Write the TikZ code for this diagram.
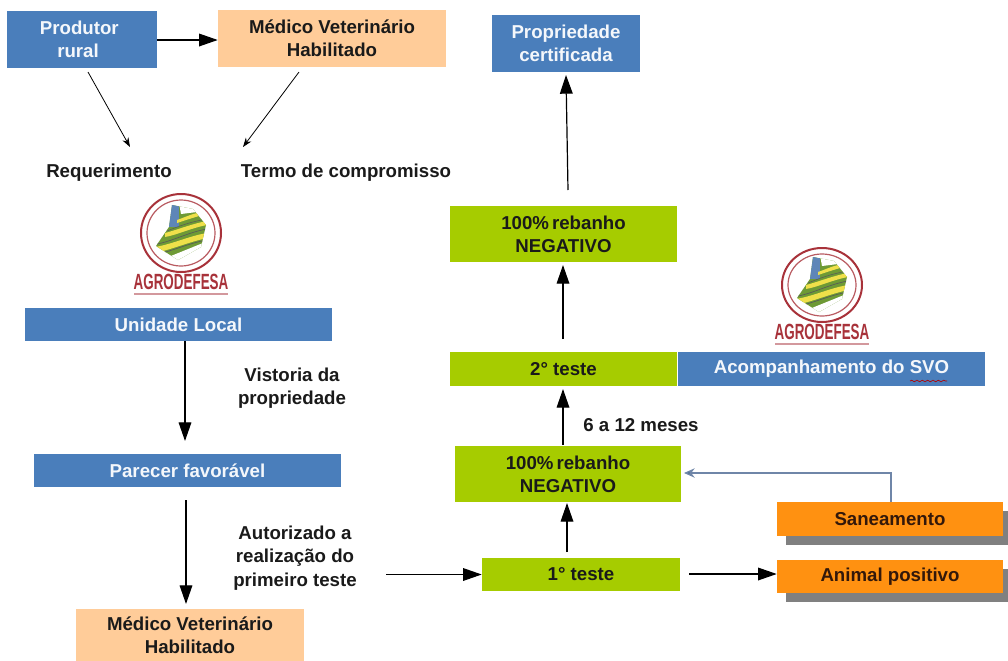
\documentclass[tikz,border=0pt]{standalone}
\usepackage{fontspec}
\setmainfont{Liberation Sans}
\usetikzlibrary{arrows.meta,calc,decorations.pathmorphing}
\definecolor{bluebox}{HTML}{4A7EBB}
\definecolor{peachbox}{HTML}{FFCC99}
\definecolor{greenbox}{HTML}{A6CC00}
\definecolor{orangebox}{HTML}{FF9111}
\definecolor{shadowbox}{HTML}{808080}
\definecolor{logored}{HTML}{A8323A}
\definecolor{logogreen}{HTML}{6E9A35}
\definecolor{logoyellow}{HTML}{EFE04A}
\definecolor{logoblue}{HTML}{5E86B8}
\definecolor{arrowblue}{HTML}{6F86A8}
\definecolor{textdark}{HTML}{1A1A1A}
\definecolor{textbrown}{HTML}{33180A}
\tikzset{
  px/.style={x=0.75pt,y=-0.75pt},
  boxbase/.style={inner sep=0pt,align=center,font=\fontsize{14}{17.5}\selectfont\bfseries},
  bluenode/.style={boxbase,fill=bluebox,text=white!94!bluebox},
  peachnode/.style={boxbase,fill=peachbox,text=textdark},
  greennode/.style={boxbase,fill=greenbox,text=textdark},
  orangenode/.style={boxbase,fill=orangebox,text=textbrown},
  labeltext/.style={inner sep=0pt,align=center,text=textdark,font=\fontsize{14}{17.5}\selectfont\bfseries},
  thinarrow/.style={draw=black,line width=0.6pt,-{Stealth[length=7pt,width=5pt]}},
  bigarrow/.style={draw=black,line width=0.9pt,-{Triangle[length=14pt,width=9.5pt]}},
  backarrow/.style={draw=arrowblue,line width=1pt,-{Stealth[length=8pt,width=7pt,fill=logoblue!80!black]}},
}
\newcommand{\agrologo}[3]{%
  \begin{scope}[shift={(#1,#2)}]
    \draw[logored,line width=1.5pt] (0,0) ellipse [x radius=40,y radius=#3];
    \draw[logored!80,line width=0.9pt] (0,0) ellipse [x radius=34,y radius=#3-6];
    \begin{scope}
      \clip (-9,-28) -- (12,-24) -- (25,-8) -- (20,14) -- (-3,27) -- (-25,13) -- (-12,-6) -- cycle;
      \fill[logogreen] (-30,-30) rectangle (30,30);
      \fill[logoblue] (-14,-30) rectangle (-2,-6);
      \fill[white] (-2,-30) -- (16,-30) -- (16,-21) -- (0,-19) -- cycle;
      \fill[logoyellow] (-26,14) .. controls (-8,11) and (8,3) .. (26,0) -- (26,5) .. controls (8,9) and (-8,16) .. (-26,20) -- cycle;
      \fill[logoyellow] (-16,0) .. controls (-4,-3) and (10,-9) .. (26,-12) -- (26,-8) .. controls (10,-5) and (-4,2) .. (-16,4) -- cycle;
      \fill[logoyellow] (-4,-13) .. controls (2,-15) and (8,-18) .. (16,-20) -- (18,-17) .. controls (8,-14) and (2,-12) .. (-4,-10) -- cycle;
      \draw[black!65,line width=0.5pt] (-24,11) .. controls (-8,8) and (8,-1) .. (26,-4);
      \draw[black!65,line width=0.5pt] (-24,21) .. controls (-8,18) and (8,10) .. (26,7);
      \draw[black!65,line width=0.4pt] (-14,-2) .. controls (-4,-6) and (8,-11) .. (26,-14);
      \fill[white] (-20,27) -- (22,10) -- (30,30) -- (-20,30) -- cycle;
    \end{scope}
    \node[inner sep=0pt,text=logored,xscale=0.61,font=\fontsize{16.5}{17}\selectfont\bfseries] at (0,#3+10) {AGRODEFESA};
    \fill[logored!50] (-47,#3+21) rectangle (47,#3+23);
  \end{scope}}
\begin{document}
\begin{tikzpicture}[px]
\useasboundingbox (0,0) rectangle (1008,661);
\fill[white] (0,0) rectangle (1008,661);
% logos
\agrologo{181}{233}{39}
\agrologo{822}{285}{37}
% boxes
\node[bluenode,minimum width=112.5pt,minimum height=43pt] (prod) at (82,39.5) {Produtor\hspace*{4pt}\\rural\hspace*{6pt}};
\node[peachnode,minimum width=171pt,minimum height=43pt] (mv1) at (332,38.5) {Médico Veterinário\\Habilitado};
\node[bluenode,minimum width=111pt,minimum height=43pt] (prop) at (566,43.5) {Propriedade\\certificada};
\node[labeltext] (req) at (109,173) {Requerimento};
\node[labeltext] (termo) at (346,173) {Termo de compromisso};
\node[bluenode,minimum width=230pt,minimum height=25pt] (ul) at (178.5,324.5) {Unidade Local};
\node[labeltext] (vist) at (292,388) {Vistoria da\\propriedade};
\node[bluenode,minimum width=230pt,minimum height=25pt] (pf) at (187.5,470.5) {Parecer favorável};
\node[labeltext] (aut) at (295,558) {Autorizado a\\realização do\\primeiro teste};
\node[peachnode,minimum width=171pt,minimum height=39pt] (mv2) at (190,635) {Médico Veterinário\\Habilitado};
\node[greennode,minimum width=170pt,minimum height=42pt] (neg1) at (563.5,234) {100\%\,rebanho\\NEGATIVO};
\node[greennode,minimum width=170pt,minimum height=25.5pt] (t2) at (563.5,369) {2° teste};
\node[bluenode,minimum width=230pt,minimum height=25.5pt] (svo) at (831.5,369) {Acompanhamento do SVO};
\draw[red!70!black,line width=0.5pt,decorate,decoration={snake,amplitude=0.6pt,segment length=4pt}] (910,381) -- (947,381);
\node[labeltext] (meses) at (641,425) {6 a 12 meses};
\node[greennode,minimum width=170pt,minimum height=42pt] (neg2) at (568,474) {100\%\,rebanho\\NEGATIVO};
\node[greennode,minimum width=148.5pt,minimum height=25pt] (t1) at (581,574.5) {1° teste};
\fill[shadowbox] (786,511) rectangle (1008,545);
\fill[shadowbox] (786,569) rectangle (1008,602);
\node[orangenode,minimum width=169.5pt,minimum height=25.5pt] (san) at (890,519) {Saneamento};
\node[orangenode,minimum width=169.5pt,minimum height=25pt] (ani) at (890,576.5) {Animal positivo};
% free ends
\coordinate (p1) at (88,72);
\coordinate (p2) at (130,147);
\coordinate (m1) at (299,72);
\coordinate (m2) at (243,147);
\coordinate (u1) at (185,341);
\coordinate (u2) at (185,441);
\coordinate (f1) at (186,500);
\coordinate (f2) at (186,604);
\coordinate (a1) at (386,574.5);
\coordinate (t1a) at (689,574);
\coordinate (t1u) at (567,552);
\coordinate (n2a) at (567,503);
\coordinate (n2u) at (563,445);
\coordinate (t2a) at (563,389);
\coordinate (t2u) at (563,339);
\coordinate (n1a) at (563,265);
\coordinate (n1u) at (568,190);
\coordinate (pra) at (566,75);
% connectors
\draw[bigarrow] (prod.east |- 0,40) -- (mv1.west |- 0,40);
\draw[thinarrow] (p1) -- (p2);
\draw[thinarrow] (m1) -- (m2);
\draw[bigarrow] (u1) -- (u2);
\draw[bigarrow] (f1) -- (f2);
\draw[bigarrow] (a1) -- (t1.west);
\draw[bigarrow] (t1a) -- (ani.west |- t1a);
\draw[bigarrow] (t1u) -- (n2a);
\draw[bigarrow] (n2u) -- (t2a);
\draw[bigarrow] (t2u) -- (n1a);
\draw[bigarrow] (n1u) -- (pra);
\draw[backarrow] (san.north -| 891,0) -- (891,473) -- (684,473);
\end{tikzpicture}
\end{document}
